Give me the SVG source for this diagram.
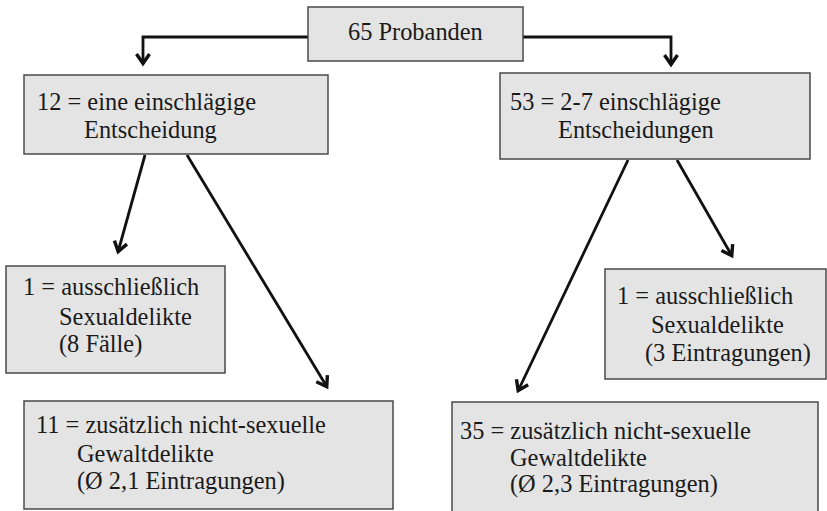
<svg xmlns="http://www.w3.org/2000/svg" width="827" height="511" viewBox="0 0 827 511">
  <style>
    .box { fill: #e4e4e4; stroke: #4a4a4a; stroke-width: 1.5; }
    .conn { fill: none; stroke: #111; stroke-width: 2.8; }
    text { font-family: 'Liberation Serif', 'Times New Roman', Times, serif; font-size: 24.4px; fill: #1a1a1a; }
  </style>
  <defs>
    <marker id="arrow" markerUnits="userSpaceOnUse" markerWidth="18" markerHeight="18" viewBox="-14 -9 18 18" refX="0" refY="0" orient="auto">
      <polyline points="-10,-6.5 -0.5,0 -10,6.5" fill="none" stroke="#111" stroke-width="3.4" stroke-linejoin="miter"/>
    </marker>
  </defs>

  <rect width="827" height="511" fill="#ffffff"/>

  <g id="connectors">
    <path class="conn" d="M308,37 H143 V64" marker-end="url(#arrow)"/>
    <path class="conn" d="M523,37 H671 V65" marker-end="url(#arrow)"/>
    <path class="conn" d="M145,155 L118,252" marker-end="url(#arrow)"/>
    <path class="conn" d="M187,155 L327,387" marker-end="url(#arrow)"/>
    <path class="conn" d="M628,160 L518,391" marker-end="url(#arrow)"/>
    <path class="conn" d="M677,160 L732,256" marker-end="url(#arrow)"/>
  </g>

  <g id="probanden">
    <rect class="box" x="308" y="7" width="215" height="54"/>
    <text x="348" y="40">65 Probanden</text>
  </g>

  <g id="eine-entscheidung">
    <rect class="box" x="24" y="75" width="304" height="79"/>
    <text x="37" y="110">12 = eine einschlägige</text>
    <text x="84" y="138">Entscheidung</text>
  </g>

  <g id="mehrere-entscheidungen">
    <rect class="box" x="500" y="73" width="310" height="86"/>
    <text x="510" y="110">53 = 2-7 einschlägige</text>
    <text x="558" y="138">Entscheidungen</text>
  </g>

  <g id="links-sexualdelikte">
    <rect class="box" x="6" y="266" width="219" height="107"/>
    <text x="23" y="295">1 = ausschließlich</text>
    <text x="59" y="325">Sexualdelikte</text>
    <text x="59" y="352">(8 Fälle)</text>
  </g>

  <g id="rechts-sexualdelikte">
    <rect class="box" x="605" y="269" width="221" height="110"/>
    <text x="617" y="304">1 = ausschließlich</text>
    <text x="651" y="333">Sexualdelikte</text>
    <text x="645" y="361">(3 Eintragungen)</text>
  </g>

  <g id="links-gewaltdelikte">
    <rect class="box" x="24" y="401" width="369" height="108"/>
    <text x="36" y="433">11 = zusätzlich nicht-sexuelle</text>
    <text x="77" y="462">Gewaltdelikte</text>
    <text x="77" y="489">(Ø 2,1 Eintragungen)</text>
  </g>

  <g id="rechts-gewaltdelikte">
    <rect class="box" x="452" y="402" width="366" height="112"/>
    <text x="460" y="439">35 = zusätzlich nicht-sexuelle</text>
    <text x="510" y="466">Gewaltdelikte</text>
    <text x="510" y="492">(Ø 2,3 Eintragungen)</text>
  </g>
</svg>
